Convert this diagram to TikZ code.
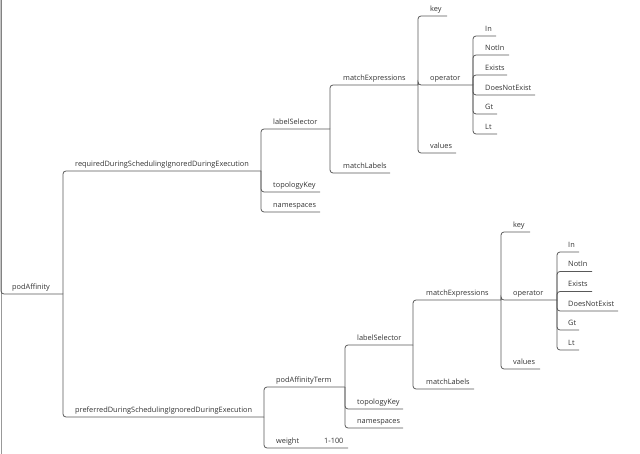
\documentclass[tikz,border=0pt]{standalone}
\usepackage{fontspec}
\setmainfont{Open Sans}
\begin{document}
\begin{tikzpicture}[x=1bp,y=-1bp,
  lbl/.style={anchor=base west,inner sep=0pt,font=\fontsize{7.4}{8}\selectfont,text=black!80},
  conn/.style={draw=black!65,line width=0.8bp,rounded corners=3bp},
  border/.style={draw=black!40,line width=1bp}]
\useasboundingbox (0,0) rectangle (640,454);
\coordinate (rtop) at (1,0);
\coordinate (rbot) at (1,454);
% ---- nodes (text) and underline ends
\node[lbl] (pod) at (12,289.5) {podAffinity};   \coordinate (pod-e) at (63,294);
\node[lbl] (req) at (75,166.5) {requiredDuringSchedulingIgnoredDuringExecution}; \coordinate (req-e) at (261,171);
\node[lbl] (pref) at (75,412.5) {preferredDuringSchedulingIgnoredDuringExecution}; \coordinate (pref-e) at (264,417);
% required subtree
\node[lbl] (ls1) at (273,124.5) {labelSelector}; \coordinate (ls1-e) at (330,129);
\node[lbl] (tk1) at (273,187.5) {topologyKey};   \coordinate (tk1-e) at (320,192);
\node[lbl] (ns1) at (273,207.5) {namespaces};    \coordinate (ns1-e) at (320,212);
\node[lbl] (me1) at (343,80.5) {matchExpressions}; \coordinate (me1-e) at (418,85);
\node[lbl] (ml1) at (343,168.5) {matchLabels};   \coordinate (ml1-e) at (390,173);
\node[lbl] (key1) at (430,11.5) {key};           \coordinate (key1-e) at (447,16);
\node[lbl] (op1) at (430,80.5) {operator};       \coordinate (op1-e) at (473,85);
\node[lbl] (val1) at (430,148.5) {values};       \coordinate (val1-e) at (456,153);
\node[lbl] (in1) at (485,31.5) {In};             \coordinate (in1-e) at (496,36);
\node[lbl] (notin1) at (485,50.5) {NotIn};       \coordinate (notin1-e) at (509,55);
\node[lbl] (ex1) at (485,70.5) {Exists};         \coordinate (ex1-e) at (507,75);
\node[lbl] (dne1) at (485,90.5) {DoesNotExist};  \coordinate (dne1-e) at (535,95);
\node[lbl] (gt1) at (485,109.5) {Gt};            \coordinate (gt1-e) at (497,114);
\node[lbl] (lt1) at (485,129.5) {Lt};            \coordinate (lt1-e) at (497,134);
% preferred subtree
\node[lbl] (pat) at (276,382.5) {podAffinityTerm}; \coordinate (pat-e) at (345,387);
\node[lbl] (wt) at (276,443.5) {weight};          \coordinate (wt-e) at (348,448);
\node[lbl] (wv) at (324,443.5) {1-100};
\node[lbl] (ls2) at (357,340.5) {labelSelector}; \coordinate (ls2-e) at (413,345);
\node[lbl] (tk2) at (357,404.5) {topologyKey};   \coordinate (tk2-e) at (403,409);
\node[lbl] (ns2) at (357,423.5) {namespaces};    \coordinate (ns2-e) at (403,428);
\node[lbl] (me2) at (426,295.5) {matchExpressions}; \coordinate (me2-e) at (501,300);
\node[lbl] (ml2) at (426,384.5) {matchLabels};   \coordinate (ml2-e) at (474,389);
\node[lbl] (key2) at (513,227.5) {key};          \coordinate (key2-e) at (530,232);
\node[lbl] (op2) at (513,295.5) {operator};      \coordinate (op2-e) at (557,300);
\node[lbl] (val2) at (513,364.5) {values};       \coordinate (val2-e) at (540,369);
\node[lbl] (in2) at (568,247.5) {In};            \coordinate (in2-e) at (579,252);
\node[lbl] (notin2) at (568,267) {NotIn};        \coordinate (notin2-e) at (592,271.5);
\node[lbl] (ex2) at (568,287) {Exists};          \coordinate (ex2-e) at (592,291.5);
\node[lbl] (dne2) at (568,306.5) {DoesNotExist}; \coordinate (dne2-e) at (618,311);
\node[lbl] (gt2) at (568,325.5) {Gt};            \coordinate (gt2-e) at (579,330);
\node[lbl] (lt2) at (568,345.5) {Lt};            \coordinate (lt2-e) at (579,350);
% ---- connectors
\draw[border] (rtop) -- (rbot);
\draw[conn] (rtop) |- (pod-e);
\foreach \p/\c in {pod/req,pod/pref,
  req/ls1,req/tk1,req/ns1,ls1/me1,ls1/ml1,me1/key1,me1/op1,me1/val1,
  op1/in1,op1/notin1,op1/ex1,op1/dne1,op1/gt1,op1/lt1,
  pref/pat,pref/wt,pat/ls2,pat/tk2,pat/ns2,ls2/me2,ls2/ml2,me2/key2,me2/op2,me2/val2,
  op2/in2,op2/notin2,op2/ex2,op2/dne2,op2/gt2,op2/lt2}
  \draw[conn] (\p-e) |- (\c-e);
\end{tikzpicture}
\end{document}
